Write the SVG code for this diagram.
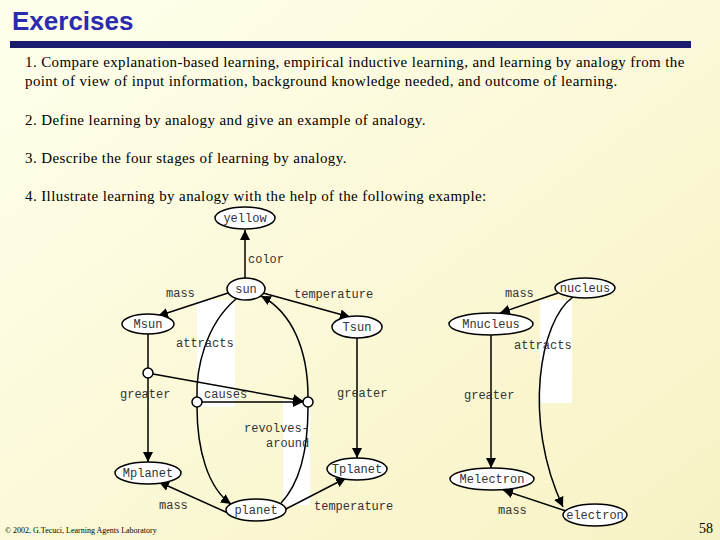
<svg xmlns="http://www.w3.org/2000/svg" width="720" height="540" viewBox="0 0 720 540">
<defs>
<linearGradient id="bg" x1="0" y1="0" x2="1" y2="1">
<stop offset="0" stop-color="#FFFFEC"/><stop offset="1" stop-color="#F7F2C4"/>
</linearGradient>
<marker id="a" viewBox="0 0 10 10" refX="10" refY="5" markerWidth="10" markerHeight="10" markerUnits="userSpaceOnUse" orient="auto"><path d="M0,0L10,5L0,10z" fill="#000"/></marker>
<style>
.t{font-family:"Liberation Serif",serif;font-size:15px;fill:#000;letter-spacing:0.4px}
.n{fill:#fff;stroke:#000;stroke-width:1.5}
.l{font-family:"Liberation Mono",monospace;font-size:12px;fill:#333}
.nl{font-family:"Liberation Mono",monospace;font-size:12px;fill:#333;text-anchor:middle}
.e{fill:none;stroke:#000;stroke-width:1.5;marker-end:url(#a)}
.p{fill:none;stroke:#000;stroke-width:1.5}
</style>
</defs>
<rect width="720" height="540" fill="url(#bg)"/>
<text x="12" y="30" font-family="Liberation Sans,sans-serif" font-size="26" font-weight="bold" fill="#2B2BB0">Exercises</text>
<rect x="10" y="41" width="681" height="7" fill="#1C1C6E"/>
<text class="t" x="25" y="67">1. Compare explanation-based learning, empirical inductive learning, and learning by analogy from the</text>
<text class="t" x="25" y="86">point of view of input information, background knowledge needed, and outcome of learning.</text>
<text class="t" x="25" y="125">2. Define learning by analogy and give an example of analogy.</text>
<text class="t" x="25" y="163">3. Describe the four stages of learning by analogy.</text>
<text class="t" x="25" y="201">4. Illustrate learning by analogy with the help of the following example:</text>
<rect x="197" y="300" width="38" height="107" fill="#fff"/>
<rect x="283" y="400" width="27" height="105" fill="#fff"/>
<rect x="540" y="300" width="32" height="103" fill="#fff"/>
<g id="connectors">
<path class="e" d="M245,278L245,230"/>
<path class="e" d="M228,293L158,316"/>
<path class="e" d="M263,293L350,317"/>
<path class="p" d="M148,334L148,368"/>
<path class="e" d="M148,378L148,462"/>
<path class="e" d="M153,374L303,401"/>
<path class="e" d="M202,402L303,402"/>
<path class="p" d="M236,299C205,325 196,370 197,397"/>
<path class="e" d="M197,407C197,450 208,488 231,504"/>
<path class="p" d="M281,503C303,480 308,440 308,407"/>
<path class="e" d="M308,397C308,350 292,312 261,296"/>
<path class="e" stroke-width="1" d="M357,338L357,458"/>
<path class="e" d="M228,513L159,482"/>
<path class="e" d="M284,510L346,478"/>
<path class="e" d="M558,293L500,313"/>
<path class="e" d="M573,297C540,320 522,420 563,507"/>
<path class="e" stroke-width="1" d="M491,335L491,468"/>
<path class="e" d="M566,511L503,490"/>
</g>
<g id="labels">
<text class="l" x="248" y="263">color</text>
<text class="l" x="166" y="297">mass</text>
<text class="l" x="294" y="298">temperature</text>
<text class="l" x="176" y="347">attracts</text>
<text class="l" x="120" y="398">greater</text>
<text class="l" x="204" y="398">causes</text>
<text class="l" x="337" y="397">greater</text>
<text class="l" x="244" y="432">revolves-</text>
<text class="l" x="266" y="447">around</text>
<text class="l" x="159" y="509">mass</text>
<text class="l" x="314" y="510">temperature</text>
<text class="l" x="505" y="297">mass</text>
<text class="l" x="514" y="349">attracts</text>
<text class="l" x="464" y="399">greater</text>
<text class="l" x="498" y="514">mass</text>
</g>
<g id="yellow"><ellipse class="n" cx="245" cy="218" rx="30" ry="11"/><text class="nl" x="245" y="222">yellow</text></g>
<g id="sun"><ellipse class="n" cx="246" cy="289" rx="19" ry="11"/><text class="nl" x="246" y="293">sun</text></g>
<g id="Msun"><ellipse class="n" cx="148" cy="324" rx="26" ry="10"/><text class="nl" x="148" y="328">Msun</text></g>
<g id="Tsun"><ellipse class="n" cx="357" cy="327" rx="25" ry="11"/><text class="nl" x="357" y="331">Tsun</text></g>
<g id="Mplanet"><ellipse class="n" cx="148" cy="473" rx="33" ry="11"/><text class="nl" x="148" y="477">Mplanet</text></g>
<g id="Tplanet"><ellipse class="n" cx="357" cy="469" rx="30" ry="11"/><text class="nl" x="357" y="473">Tplanet</text></g>
<g id="planet"><ellipse class="n" cx="256" cy="510" rx="30" ry="11"/><text class="nl" x="256" y="514">planet</text></g>
<g id="c1"><circle class="n" cx="148" cy="373" r="5"/></g>
<g id="c2"><circle class="n" cx="197" cy="402" r="5"/></g>
<g id="c3"><circle class="n" cx="308" cy="402" r="5"/></g>
<g id="nucleus"><ellipse class="n" cx="585" cy="288" rx="30" ry="10"/><text class="nl" x="585" y="292">nucleus</text></g>
<g id="Mnucleus"><ellipse class="n" cx="491" cy="324" rx="42" ry="11"/><text class="nl" x="491" y="328">Mnucleus</text></g>
<g id="Melectron"><ellipse class="n" cx="492" cy="479" rx="42" ry="11"/><text class="nl" x="492" y="483">Melectron</text></g>
<g id="electron"><ellipse class="n" cx="595" cy="515" rx="32" ry="11"/><text class="nl" x="595" y="519">electron</text></g>
<text x="5" y="533" font-family="Liberation Serif,serif" font-size="8">© 2002, G.Tecuci, Learning Agents Laboratory</text>
<text x="713" y="533" text-anchor="end" font-family="Liberation Serif,serif" font-size="14">58</text>
</svg>
